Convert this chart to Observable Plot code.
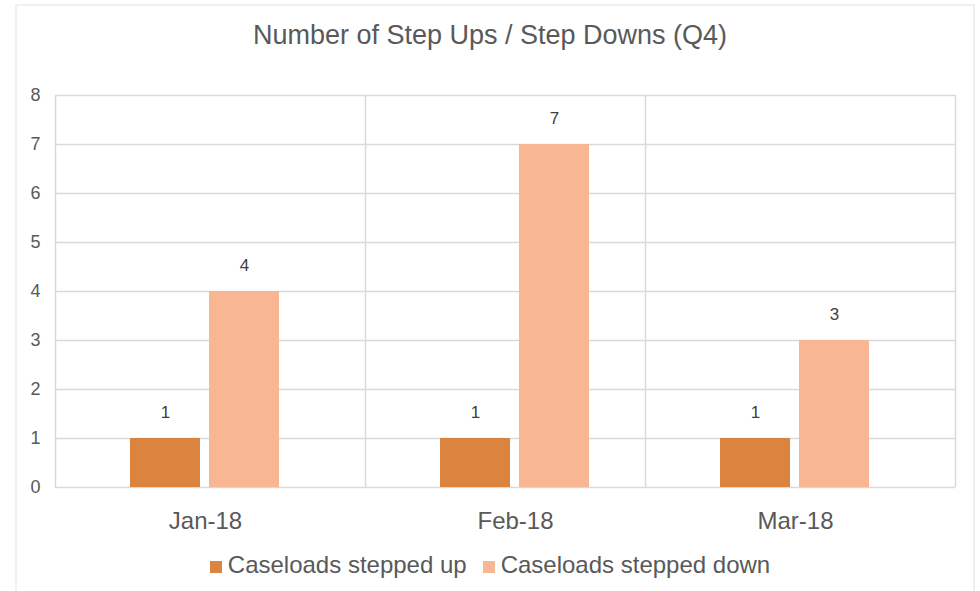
<!DOCTYPE html>
<html>
<head>
<meta charset="utf-8">
<script src="https://cdn.jsdelivr.net/npm/d3@7"></script>
<script src="https://cdn.jsdelivr.net/npm/@observablehq/plot@0.6"></script>
<style>
  body { margin: 0; background: #fff; font-family: "Liberation Sans", Arial, sans-serif; }
  #frame { position: absolute; left: 15px; top: 4px; width: 960px; height: 600px; border: 2px solid #f0f0f0; box-sizing: border-box; }
  #wrap { position: absolute; left: 0; top: 0; width: 980px; }
  #title { margin-top: 15px; height: 40px; line-height: 40px; text-align: center; font-size: 27px; color: #595959; }
  #legend { margin-top: 10px; height: 30px; line-height: 30px; display: flex; justify-content: center; align-items: center; font-size: 24px; color: #595959; padding-left: 0px; }
  .sw { display: inline-block; width: 12px; height: 12px; margin-right: 6px; margin-top: 4px; }
  .item { display: flex; align-items: center; margin: 0 8px; }
  #chart svg g[aria-label="y-axis tick label"] text { font-size: 18px; }
</style>
</head>
<body>
<div id="frame"></div>
<div id="wrap">
  <div id="title">Number of Step Ups / Step Downs (Q4)</div>
  <div id="chart"></div>
  <div id="legend"></div>
</div>
<script>
const months = ["Jan-18", "Feb-18", "Mar-18"];
const steppedUp = [1, 1, 1];
const steppedDown = [4, 7, 3];
const seriesNames = ["Caseloads stepped up", "Caseloads stepped down"];
const seriesColors = ["#DB843F", "#F8B692"];
const yTicks = [0, 1, 2, 3, 4, 5, 6, 7, 8];

const parse = d3.utcParse("%b-%y");
const DAY = 864e5;
const starts = months.map(parse);
const end = d3.utcMonth.offset(starts[starts.length - 1], 1);
const boundaries = [...starts, end];

const rows = [];
months.forEach((m, i) => {
  rows.push({month: m, start: starts[i], series: seriesNames[0], value: steppedUp[i], a: 7.5, b: 14.5});
  rows.push({month: m, start: starts[i], series: seriesNames[1], value: steppedDown[i], a: 15.4, b: 22.4});
});
const bx1 = d => new Date(+d.start + d.a * DAY);
const bx2 = d => new Date(+d.start + d.b * DAY);
const bmid = d => new Date(+d.start + (d.a + d.b) / 2 * DAY);
const mid = (d, i) => new Date(+starts[i] + 15 * DAY);

const chart = Plot.plot({
  width: 980,
  height: 485,
  marginLeft: 55,
  marginRight: 25,
  marginTop: 40,
  marginBottom: 53,
  style: {fontFamily: "Liberation Sans, Arial, sans-serif", color: "#595959", background: "transparent"},
  x: {type: "utc", domain: [starts[0], end], axis: null},
  y: {domain: [0, 8], axis: null},
  color: {domain: seriesNames, range: seriesColors},
  marks: [
    Plot.ruleY(yTicks, {stroke: "#d9d9d9", strokeWidth: 1.5}),
    Plot.ruleX(boundaries, {stroke: "#d9d9d9", strokeWidth: 1.5}),
    Plot.rectY(rows, {x1: bx1, x2: bx2, y1: 0, y2: "value", fill: "series"}),
    Plot.text(rows, {x: bmid, y: "value", text: d => String(d.value), dy: -26, fontSize: 17, fill: "#404040"}),
    Plot.text(months, {x: mid, y: 0, text: d => d, dy: 34, fontSize: 24, fill: "#595959"}),
    Plot.axisY({ticks: yTicks, tickSize: 0, tickPadding: 15, fontSize: 18, label: null, tickFormat: d => d, fill: "#595959"})
  ]
});
document.getElementById("chart").appendChild(chart);

const legend = document.getElementById("legend");
seriesNames.forEach((s, i) => {
  const item = document.createElement("span");
  item.className = "item";
  item.innerHTML = `<span class="sw" style="background:${seriesColors[i]}"></span>${s}`;
  legend.appendChild(item);
});
</script>
</body>
</html>
